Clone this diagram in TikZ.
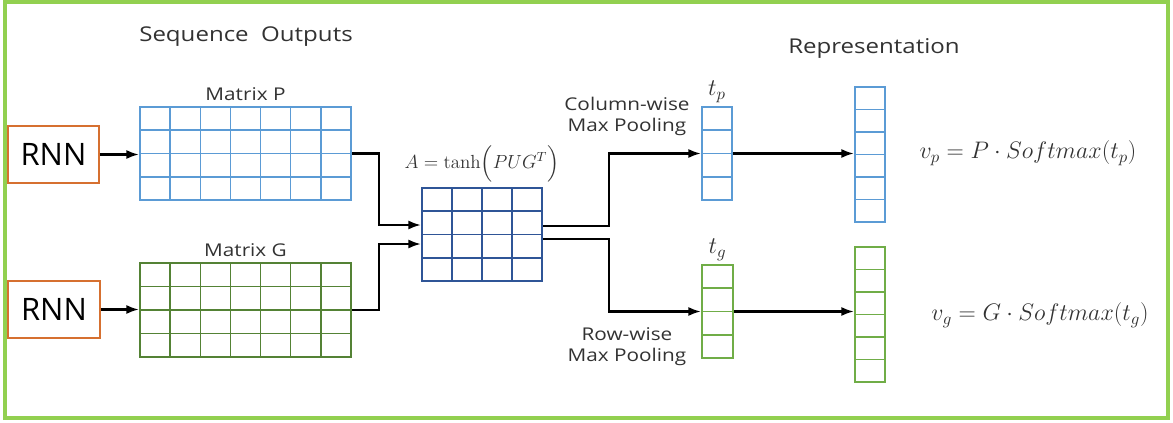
\RequirePackage{fix-cm}
\documentclass[tikz,border=0pt]{standalone}
\usepackage{amsmath}
\usepackage{fontspec}
\setsansfont{Open Sans}[FakeStretch=1.18]
\newfontfamily\rnnfont{Open Sans}
\usetikzlibrary{calc,positioning,arrows.meta,fit}
\definecolor{seqframe}{RGB}{146,208,80}
\definecolor{seqorange}{RGB}{214,112,48}
\definecolor{seqblue}{RGB}{91,155,213}
\definecolor{seqgreen}{RGB}{84,130,53}
\definecolor{seqlime}{RGB}{112,173,71}
\definecolor{seqnavy}{RGB}{47,85,151}
\definecolor{seqtext}{RGB}{50,50,50}

\begin{document}
\begin{tikzpicture}[x=0.025cm,y=-0.025cm,
  font=\sffamily,
  rnn/.style={draw=seqorange,line width=1.4pt,fill=white,inner sep=0pt},
  rnntext/.style={font=\rnnfont\fontsize{22}{24}\selectfont,text=black},
  cellmat/.style n args={3}{draw=#3,line width=1.5pt,inner sep=0pt,
    path picture={
      \foreach \k in {1,...,#1}
        \draw[#3,line width=1.1pt] ($(path picture bounding box.north west)!{\k/#1}!(path picture bounding box.north east)$)
          -- ($(path picture bounding box.south west)!{\k/#1}!(path picture bounding box.south east)$);
      \foreach \k in {1,...,#2}
        \draw[#3,line width=1.1pt] ($(path picture bounding box.north west)!{\k/#2}!(path picture bounding box.south west)$)
          -- ($(path picture bounding box.north east)!{\k/#2}!(path picture bounding box.south east)$);}},
  conn/.style={-{Latex[length=9pt,width=6.5pt]},line width=1.6pt},
  title/.style={text=seqtext,font=\sffamily\fontsize{14.5}{16}\selectfont},
  caption/.style={text=seqtext,font=\sffamily\fontsize{12.5}{15}\selectfont,align=center},
  formula/.style={font=\fontsize{17}{19}\selectfont,text=seqtext}]

\useasboundingbox (0,0) rectangle (1173,422);
% green frame round everything
\draw[seqframe,line width=2.2pt] (5,2) rectangle (1168,418);

\node[title] (seqout) at (246,37) {Sequence~ Outputs};
\node[title] (repr) at (874,48) {Representation};

\node[rnn,fit={(8,126) (99,183)},label={[rnntext]center:RNN}] (rnnP) {};
\node[rnn,fit={(8,281) (100,338)},label={[rnntext]center:RNN}] (rnnG) {};

\node[cellmat={7}{4}{seqblue},fit={(140,107) (351,200)}] (matP) {};
\node[cellmat={7}{4}{seqgreen},fit={(140,263) (351,357)}] (matG) {};
\node[cellmat={4}{4}{seqnavy},fit={(422,188) (542,281)}] (matA) {};
\node[caption,above=0pt of matP] {Matrix P};
\node[caption,above=0pt of matG] {Matrix G};
\node[formula,font=\fontsize{13.5}{15}\selectfont,above=0pt of matA] (atanh) {$A=\tanh\Bigl(PUG^{T}\Bigr)$};

\node[cellmat={1}{4}{seqblue},fit={(702,107) (732,200)}] (tp) {};
\node[cellmat={1}{4}{seqlime},fit={(702,265) (733,358)}] (tg) {};
\node[formula,above=-1pt of tp] {$t_p$};
\node[formula,above=-1pt of tg] {$t_g$};
\node[caption] (colpool) at (627,116) {Column-wise\\Max Pooling};
\node[caption] (rowpool) at (627,347) {Row-wise\\Max Pooling};

\node[cellmat={1}{6}{seqblue},fit={(855,87) (885,222)}] (repP) {};
\node[cellmat={1}{6}{seqlime},fit={(855,247) (885,382)}] (repG) {};
\node[formula] (vp) at (1028,153) {$v_p = P\cdot Softmax(t_p)$};
\node[formula] (vg) at (1040,315) {$v_g = G\cdot Softmax(t_g)$};

\draw[conn] (rnnP.east) -- (rnnP.east -| matP.west);
\draw[conn] (rnnG.east) -- (rnnG.east -| matG.west);
\draw[conn] (matP.east) -- ++(27,0) |- ($(matA.west)+(0,-9.5)$);
\draw[conn] (matG.east) -- ++(27,0) |- ($(matA.west)+(0,9.5)$);
\draw[conn] ($(matA.east)+(0,-8.5)$) -- ++(66,0) |- (tp.west);
\draw[conn] ($(matA.east)+(0,4.5)$) -- ++(66,0) |- (tg.west);
\draw[conn] (tp.east) -- (tp.east -| repP.west);
\draw[conn] (tg.east) -- (tg.east -| repG.west);
\end{tikzpicture}
\end{document}
